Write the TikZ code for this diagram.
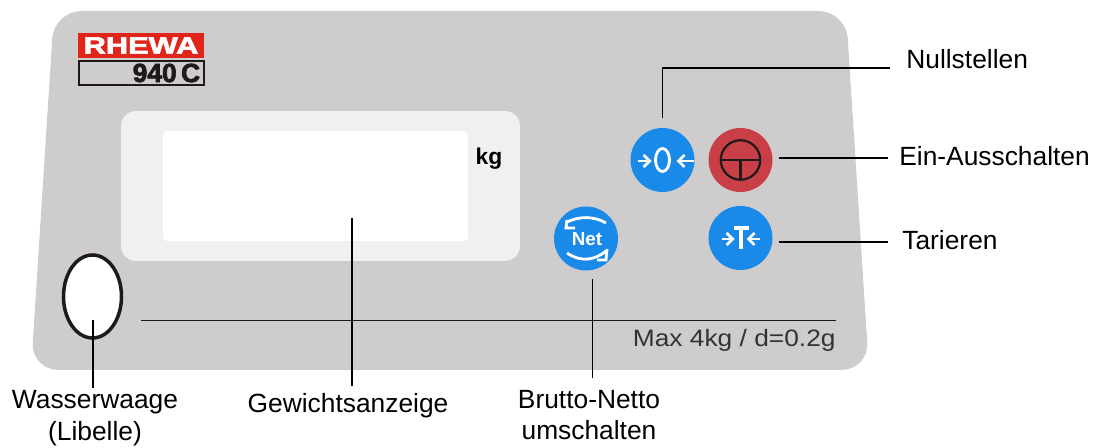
\documentclass[tikz,border=0pt]{standalone}
\usepackage{fontspec}
\setmainfont{Liberation Sans}
\newfontfamily\heavyfont[BoldFeatures={FakeBold=2.5}]{Liberation Sans}
\usetikzlibrary{arrows.meta, shapes.geometric}

\definecolor{panelgrey}{HTML}{CFCCCD}
\definecolor{screengrey}{HTML}{F0F0F0}
\definecolor{btnblue}{HTML}{1A8AE8}
\definecolor{btnred}{HTML}{C93F47}
\definecolor{logored}{HTML}{E1251B}
\definecolor{inkblack}{HTML}{1E1A1A}

\tikzset{
  btn/.style={circle, minimum size=1.28cm, inner sep=0pt},
  callout/.style={inner sep=0pt, align=center, font=\fontsize{15}{18}\selectfont},
  leader/.style={line width=1pt, black},
  iconline/.style={draw=white, line width=1.6pt},
  iconarrow/.style={iconline, -{Straight Barb[length=1.2mm,width=2.4mm]}},
}

\begin{document}
\begin{tikzpicture}[x=0.02cm, y=-0.02cm]
\useasboundingbox (0, 0) rectangle (1095, 448);

% panel
\fill[panelgrey, rounded corners=0.55cm] (54, 11) -- (846, 11) -- (869, 370) -- (31, 370) -- cycle;

% logo
\node[fill=logored, minimum width=2.52cm, minimum height=0.5cm, inner sep=0pt] (logo) at (141, 45.5) {};
\node[text=white, inner sep=0pt, xscale=1.3, font=\heavyfont\fontsize{13.5}{15}\bfseries\selectfont] (rhewa) at (logo) {RHEWA};
\node[draw=inkblack, line width=0.6pt, minimum width=2.5cm, minimum height=0.48cm, inner sep=0pt] (model) at (141.5, 73) {};
\node[left, text=inkblack, inner sep=0pt, font=\heavyfont\fontsize{15}{16}\bfseries\selectfont] (modeltext) at (200.5, 73) {940\,C};

% display
\node[fill=screengrey, rounded corners=0.3cm, minimum width=7.98cm, minimum height=3cm, inner sep=0pt] (screen) at (320.5, 186) {};
\node[fill=white, rounded corners=0.08cm, minimum width=6.1cm, minimum height=2.2cm, inner sep=0pt] (display) at (315.5, 186) {};
\node[inner sep=0pt, font=\fontsize{13}{15}\bfseries\selectfont] (kg) at (489, 159) {kg};

% level
\node[ellipse, draw=inkblack, fill=white, line width=2pt, minimum width=1.16cm, minimum height=1.66cm, inner sep=0pt] (level) at (92.5, 296.5) {};

% scale line and rating
\node[inner sep=0pt] (ruleleft) at (140, 320) {};
\node[inner sep=0pt] (ruleright) at (837, 320) {};
\draw[line width=0.5pt, inkblack] (ruleleft) -- (ruleright);
\node[left, inner sep=0pt, text=black!80, xscale=1.11, font=\fontsize{13.5}{15}\selectfont] (rating) at (836, 340) {Max 4kg / d=0.2g};

% buttons
\node[btn, fill=btnblue] (zero) at (662.5, 160) {};
\node[btn, fill=btnred] (power) at (740.5, 160) {};
\node[btn, fill=btnblue] (tare) at (740.5, 238) {};
\node[btn, fill=btnblue] (net) at (586, 238.5) {};

% button icons
\foreach \btn/\gapa/\gapb in {zero/-24.5/-11, tare/-18.5/-6} {
  \draw[iconarrow] ([shift={(\gapa, 1)}]\btn.center) -- ([shift={(\gapb, 1)}]\btn.center);
}
\draw[iconarrow] ([shift={(31.5, 1)}]zero.center) -- ([shift={(14, 1)}]zero.center);
\draw[iconarrow] ([shift={(19.5, 1)}]tare.center) -- ([shift={(6, 1)}]tare.center);
\draw[iconline] (zero.center) ellipse (7 and 11.5);
\draw[iconline, line width=2pt] (741, 227) -- (741, 249);
\draw[iconline, line width=2pt] (733.5, 228) -- (748.5, 228);

\draw[inkblack, line width=1.25pt] (power.center) circle (0.395cm);
\draw[inkblack, line width=1.25pt] ([xshift=-0.395cm]power.center) -- ([xshift=0.395cm]power.center);
\draw[inkblack, line width=1.25pt] (power.center) -- ([yshift=-0.395cm]power.center);

\node[text=white, inner sep=0pt, font=\fontsize{10.7}{12}\bfseries\selectfont] (nettext) at (587, 239) {Net};
\draw[iconline] (606, 223) .. controls (594, 216) and (580, 216) .. (567, 222);
\draw[iconline] (567, 220) -- (566, 228) -- (575, 228);
\draw[iconline] (567, 253) .. controls (580, 262) and (594, 261) .. (606, 251);
\draw[iconline] (607, 249) -- (606, 260) -- (597, 260);

% labels
\node[callout, right] (nullstellen) at (906, 59) {Nullstellen};
\node[callout, right] (einaus) at (899, 156) {Ein-Ausschalten};
\node[callout, right] (tarieren) at (902, 240) {Tarieren};
\node[callout] (libelle) at (95, 418) {Wasserwaage\\(Libelle)};
\node[callout] (gewicht) at (348, 406) {Gewichtsanzeige};
\node[callout] (brutto) at (589, 415) {Brutto-Netto\\umschalten};

% connectors
\coordinate (a) at (890, 68);
\coordinate (b) at (888, 158);
\coordinate (c) at (888, 242);
\coordinate (d) at (592.5, 378);
\coordinate (e) at (352, 386);
\coordinate (f) at (93, 388);

\draw[leader, shorten >=0.2cm] (a) -| (zero.north);
\draw[leader, shorten <=0.12cm] (power.east |- b) -- (b);
\draw[leader, shorten <=0.12cm] (tare.east |- c) -- (c);
\draw[leader, shorten >=0.17cm] (d) -- (d |- net.south);
\draw[leader, shorten >=0.64cm] (e) -- (e |- display.center);
\draw[leader, shorten >=0.47cm] (f) -- (f |- level.center);

\end{tikzpicture}
\end{document}
